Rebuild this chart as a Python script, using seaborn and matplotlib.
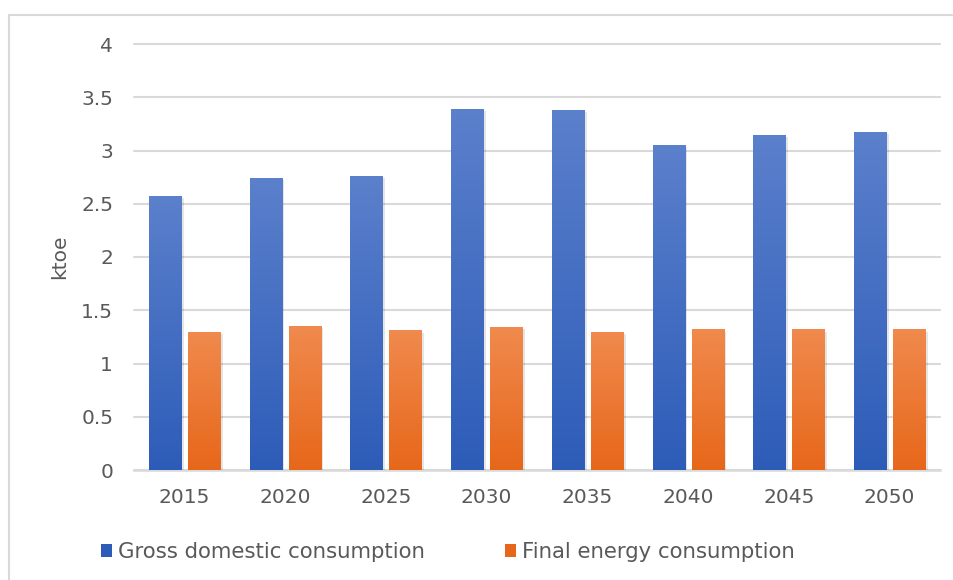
import numpy as np
import pandas as pd
import matplotlib
matplotlib.use("Agg")
import matplotlib.pyplot as plt
import matplotlib.patheffects as pe
from matplotlib.colors import LinearSegmentedColormap
from matplotlib.patches import Rectangle
import seaborn as sns

# Energy consumption scenario, ktoe
years = ["2015", "2020", "2025", "2030", "2035", "2040", "2045", "2050"]
gross_domestic = [2.57, 2.74, 2.76, 3.39, 3.38, 3.05, 3.15, 3.17]
final_energy = [1.30, 1.35, 1.31, 1.34, 1.30, 1.32, 1.32, 1.32]
series_names = ["Gross domestic consumption", "Final energy consumption"]
y_ticks = [0, 0.5, 1, 1.5, 2, 2.5, 3, 3.5, 4]
y_tick_labels = ["0", "0.5", "1", "1.5", "2", "2.5", "3", "3.5", "4"]

df = pd.DataFrame({
    "year": years * 2,
    "value": gross_domestic + final_energy,
    "series": [series_names[0]] * len(years) + [series_names[1]] * len(years),
})

sns.set_theme(style="white")
plt.rcParams["font.family"] = ["DejaVu Sans"]

text_col = "#595959"
grid_col = "#D9D9D9"
blue_top, blue_bot = "#5B80CC", "#2D5CB8"
orange_top, orange_bot = "#F08A4E", "#E7671A"

fig = plt.figure(figsize=(9.54, 5.80), dpi=100)
ax = fig.add_axes([134 / 954, 1 - 470 / 580, (940 - 134) / 954, (470 - 44) / 580])

sns.barplot(data=df, x="year", y="value", hue="series",
            palette=[blue_bot, orange_bot], width=0.774, gap=0.178,
            legend=False, ax=ax, zorder=3)

# Vertical gradient fill for every bar, clipped to the bar shape
cmaps = {
    0: LinearSegmentedColormap.from_list("g_blue", [blue_bot, blue_top]),
    1: LinearSegmentedColormap.from_list("g_orange", [orange_bot, orange_top]),
}
grad = np.linspace(0, 1, 256).reshape(-1, 1)
bars = [p for p in ax.patches if isinstance(p, Rectangle) and p.get_height() > 0]
bars_sorted = sorted(bars, key=lambda p: p.get_x())
for i, p in enumerate(bars_sorted):
    kind = i % 2
    x0, w, h = p.get_x(), p.get_width(), p.get_height()
    p.set_path_effects([pe.SimplePatchShadow(offset=(2, -1.5), shadow_rgbFace="#000000", alpha=0.10),
                        pe.Normal()])
    p.set_edgecolor("none")
    im = ax.imshow(grad, extent=[x0, x0 + w, 0, h], origin="lower", aspect="auto",
                   cmap=cmaps[kind], zorder=4, interpolation="bilinear")
    im.set_clip_path(p)

ax.set_xlim(-0.5, len(years) - 0.5)
ax.set_ylim(0, 4)
ax.set_yticks(y_ticks)
ax.set_yticklabels(y_tick_labels)
ax.yaxis.grid(True, color=grid_col, linewidth=1.5, zorder=0)
for gl in ax.get_ygridlines():
    gl.set_clip_on(False)
ax.set_axisbelow(True)
for s in ["top", "right", "left"]:
    ax.spines[s].set_visible(False)
ax.spines["bottom"].set_color(grid_col)
ax.spines["bottom"].set_linewidth(1.8)
ax.spines["bottom"].set_zorder(2)
ax.tick_params(axis="both", length=0, labelsize=14.5, colors=text_col)
ax.tick_params(axis="x", pad=13)
ax.tick_params(axis="y", pad=15)
ax.set_xlabel("")
ax.set_ylabel("ktoe", fontsize=14.5, color=text_col, labelpad=9)

# Legend along the bottom
handles = [Rectangle((0, 0), 1, 1, facecolor=blue_bot, edgecolor="none"),
           Rectangle((0, 0), 1, 1, facecolor=orange_bot, edgecolor="none")]
fig.legend(handles, series_names, loc="center left",
           bbox_to_anchor=(101 / 954, 1 - 552 / 580), ncol=2, frameon=False,
           fontsize=15.3, labelcolor=text_col, handlelength=0.5, handleheight=0.5,
           handletextpad=0.32, columnspacing=3.75, borderpad=0, borderaxespad=0)

# Chart area border
fig.patches.append(Rectangle((9 / 954, -0.05), 1.0, 1 - 15 / 580 + 0.05,
                             transform=fig.transFigure, fill=False,
                             edgecolor=grid_col, linewidth=1.5))

fig.savefig("out.png", dpi=100)
